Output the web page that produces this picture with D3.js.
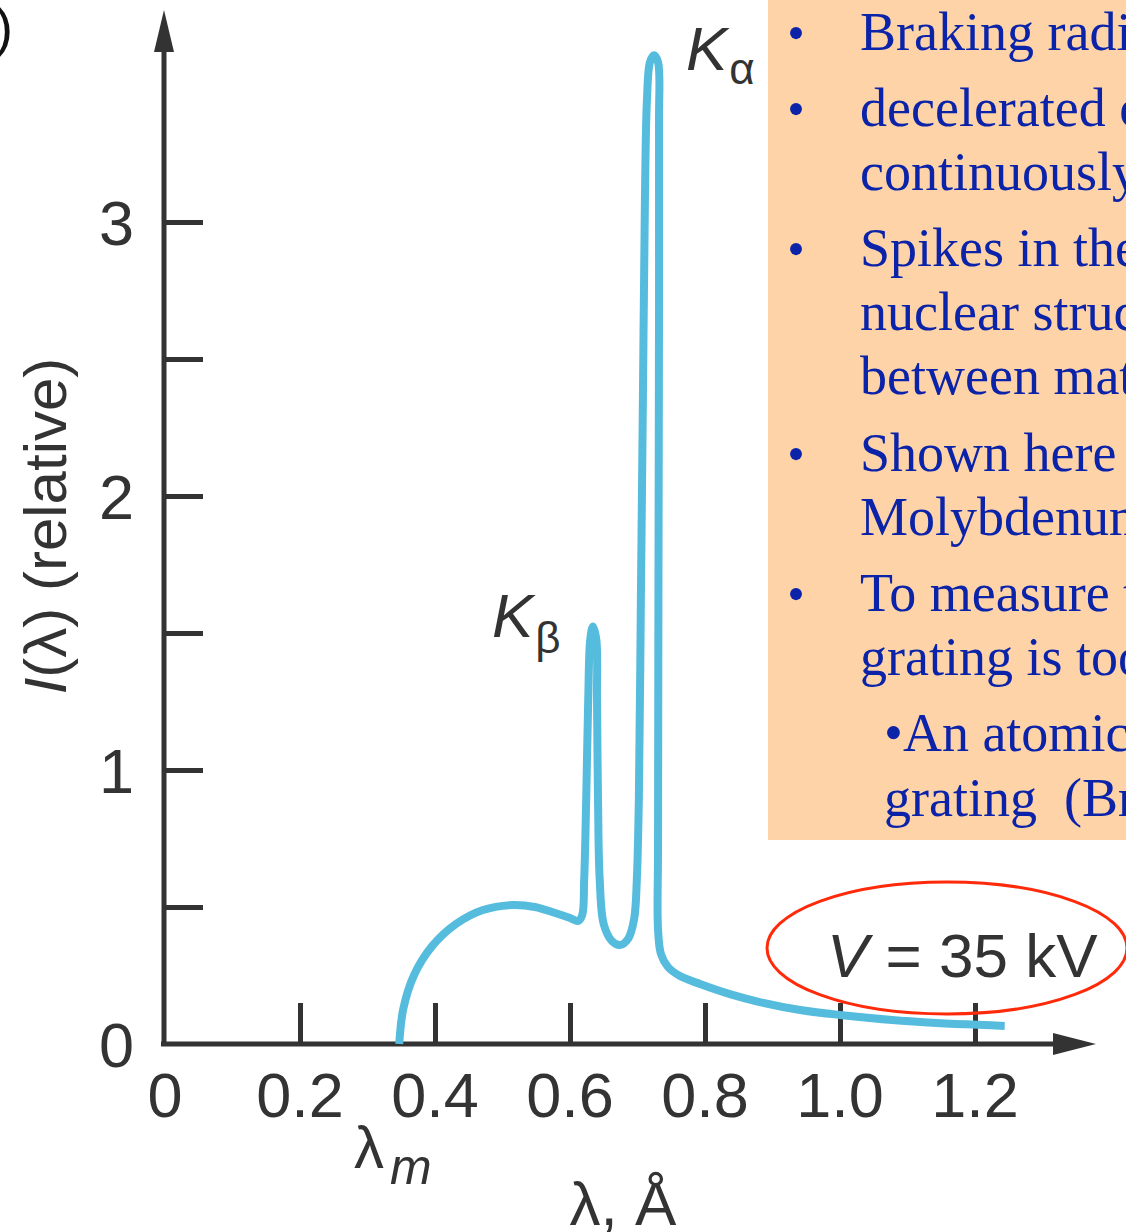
<!DOCTYPE html>
<html>
<head>
<meta charset="utf-8">
<script src="https://cdn.jsdelivr.net/npm/d3@7"></script>
<style>
  body { margin: 0; background: #fff; }
  svg { display: block; }
</style>
</head>
<body>
<div id="chart"></div>
<script>
// spectrum of Mo at 35 kV
const lambda = [0.347, 0.353, 0.369, 0.396, 0.431, 0.471, 0.514, 0.548, 0.578, 0.600, 0.612,
  0.618, 0.621, 0.624, 0.627, 0.630, 0.634, 0.639, 0.640, 0.6415, 0.644, 0.650, 0.662, 0.674, 0.686,
  0.695, 0.699, 0.702, 0.705, 0.708, 0.711, 0.714, 0.7185, 0.7244, 0.7304, 0.7319, 0.7319, 0.731,
  0.7304, 0.7304, 0.7348, 0.7452, 0.763, 0.7926, 0.837, 0.881, 0.941, 1.0, 1.119, 1.244];
const intensity = [0, 0.128, 0.252, 0.358, 0.438, 0.489, 0.507, 0.500, 0.478, 0.460, 0.449,
  0.47, 0.60, 0.893, 1.258, 1.476, 1.524, 1.476, 1.258, 0.893, 0.60, 0.437, 0.376, 0.361, 0.383,
  0.456, 0.60, 0.893, 1.622, 2.351, 3.081, 3.445, 3.584, 3.609, 3.584, 3.372, 2.716, 1.622,
  0.711, 0.419, 0.328, 0.281, 0.248, 0.219, 0.182, 0.153, 0.124, 0.106, 0.080, 0.066];

const xTicks = [0.2, 0.4, 0.6, 0.8, 1.0, 1.2];
const xLabels = ["0", "0.2", "0.4", "0.6", "0.8", "1.0", "1.2"];
const yTicks = [0.5, 1, 1.5, 2, 2.5, 3];
const yLabels = [0, 1, 2, 3];

const notes = [
  { text: "Braking radiation (Bremsstrahlung)", bullet: true },
  { text: "decelerated charges radiate", bullet: true },
  { text: "continuously", bullet: false },
  { text: "Spikes in the spectrum are due to", bullet: true },
  { text: "nuclear structure and vary", bullet: false },
  { text: "between materials", bullet: false },
  { text: "Shown here\u00a0\u00a0\u00a0for", bullet: true },
  { text: "Molybdenum", bullet: false },
  { text: "To measure the wavelength a diffraction", bullet: true },
  { text: "grating is too coarse", bullet: false },
  { text: "\u2022An atomic lattice acts as the", bullet: false, sub: true },
  { text: "grating\u00a0 (Bragg diffraction)", bullet: false, sub: true }
];
const noteBaselines = [50, 126, 190, 266, 330, 394, 471, 535, 611, 675, 751, 816];

const W = 1126, H = 1232;
const ink = "#333";
const blue = "#56bcdd";

const svg = d3.select("#chart").append("svg")
  .attr("width", W).attr("height", H)
  .style("font-family", "'Liberation Sans', Arial, Helvetica, sans-serif");

const x = d3.scaleLinear().domain([0, 1.2]).range([165, 975]);
const y = d3.scaleLinear().domain([0, 3]).range([1044, 222]);

// partial panel label cut at the left edge
svg.append("text").attr("x", 13).attr("y", 46)
  .attr("text-anchor", "end").attr("font-size", 54).attr("fill", "#111")
  .text("(a)");

// notes box
const box = svg.append("g");
box.append("rect").attr("x", 768).attr("y", 0).attr("width", 400).attr("height", 840)
  .attr("fill", "#fed3a8");
const noteText = box.append("g")
  .style("font-family", "'Liberation Serif', 'Times New Roman', serif")
  .attr("font-size", 54).attr("fill", "#0a23a8");
notes.forEach((n, i) => {
  if (n.bullet) {
    noteText.append("text").attr("x", 796).attr("y", noteBaselines[i])
      .attr("text-anchor", "middle").attr("font-size", 50).text("\u2022");
  }
  noteText.append("text").attr("x", n.sub ? 884 : 860).attr("y", noteBaselines[i]).text(n.text);
});

// y axis ticks (pointing right)
const yAxis = svg.append("g").attr("transform", "translate(164,0)")
  .call(d3.axisRight(y).tickValues(yTicks).tickSize(39).tickFormat(""));
yAxis.select(".domain").remove();
yAxis.selectAll("line").attr("stroke", ink).attr("stroke-width", 5);

// x axis ticks (pointing up)
const xAxis = svg.append("g").attr("transform", "translate(0,1044)")
  .call(d3.axisTop(x).tickValues(xTicks).tickSize(41).tickFormat(""));
xAxis.select(".domain").remove();
xAxis.selectAll("line").attr("stroke", ink).attr("stroke-width", 5);

// axis lines with arrowheads
svg.append("line").attr("x1", 164).attr("y1", 1046).attr("x2", 164).attr("y2", 45)
  .attr("stroke", ink).attr("stroke-width", 5);
svg.append("path").attr("d", "M164,10 L154,52 L174,52 Z").attr("fill", ink);
svg.append("line").attr("x1", 161).attr("y1", 1044).attr("x2", 1060).attr("y2", 1044)
  .attr("stroke", ink).attr("stroke-width", 5);
svg.append("path").attr("d", "M1096,1044 L1053,1033 L1053,1055 Z").attr("fill", ink);

// tick labels
svg.append("g").selectAll("text").data(xLabels).join("text")
  .attr("x", d => x(+d)).attr("y", 1117)
  .attr("text-anchor", "middle").attr("font-size", 63).attr("fill", ink)
  .text(d => d);
svg.append("g").selectAll("text").data(yLabels).join("text")
  .attr("x", 134).attr("y", d => y(d) + 23)
  .attr("text-anchor", "end").attr("font-size", 63).attr("fill", ink)
  .text(d => d);

// axis titles
const yt = svg.append("text").attr("transform", "translate(66,526) rotate(-90)")
  .attr("text-anchor", "middle").attr("font-size", 60).attr("fill", ink);
yt.append("tspan").attr("font-style", "italic").text("I");
yt.append("tspan").text("(\u03bb) (relative)");

const lm = svg.append("text").attr("x", 354).attr("y", 1168)
  .attr("font-size", 60).attr("fill", ink);
lm.append("tspan").text("\u03bb");
lm.append("tspan").attr("font-style", "italic").attr("font-size", 50).attr("dx", 6).attr("dy", 16).text("m");

svg.append("text").attr("x", 623).attr("y", 1225).attr("text-anchor", "middle")
  .attr("font-size", 62).attr("fill", ink).text("\u03bb, \u00c5");

// spectrum curve
const pts = lambda.map((l, i) => [l, intensity[i]]);
const line = d3.line()
  .x(d => x(d[0])).y(d => y(d[1]))
  .curve(d3.curveCatmullRom.alpha(0.5));
svg.append("path").datum(pts)
  .attr("d", line)
  .attr("fill", "none").attr("stroke", blue).attr("stroke-width", 8)
  .attr("stroke-linejoin", "round");

// peak labels
const ka = svg.append("text").attr("x", 686).attr("y", 70).attr("font-size", 62).attr("fill", ink);
ka.append("tspan").attr("font-style", "italic").text("K");
ka.append("tspan").attr("font-size", 44).attr("dx", 2).attr("dy", 14).text("\u03b1");

const kb = svg.append("text").attr("x", 492).attr("y", 637).attr("font-size", 62).attr("fill", ink);
kb.append("tspan").attr("font-style", "italic").text("K");
kb.append("tspan").attr("font-size", 44).attr("dx", 2).attr("dy", 16).text("\u03b2");

// voltage annotation
svg.append("ellipse").attr("cx", 947).attr("cy", 948).attr("rx", 180).attr("ry", 66)
  .attr("fill", "none").attr("stroke", "#ff2a0a").attr("stroke-width", 3);
const vt = svg.append("text").attr("x", 827).attr("y", 977).attr("font-size", 62).attr("fill", ink);
vt.append("tspan").attr("font-style", "italic").text("V");
vt.append("tspan").text(" = 35 kV");
</script>
</body>
</html>
